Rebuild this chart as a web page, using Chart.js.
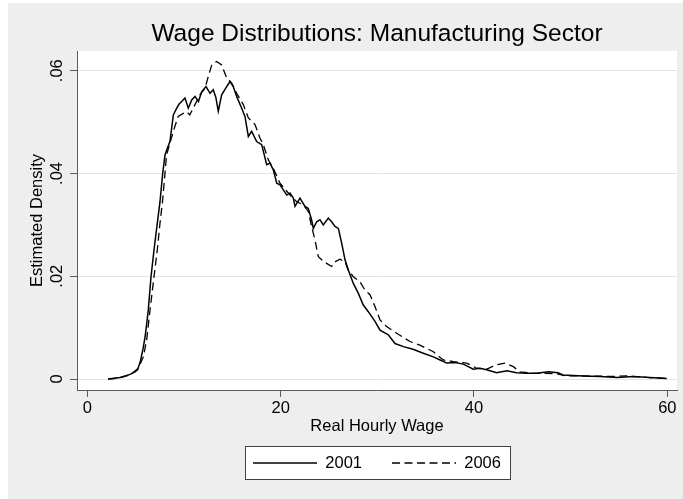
<!DOCTYPE html>
<html>
<head>
<meta charset="utf-8">
<title>Wage Distributions: Manufacturing Sector</title>
<script src="https://cdn.jsdelivr.net/npm/chart.js@4/dist/chart.umd.min.js"></script>
<style>
  html, body { margin: 0; padding: 0; background: #ffffff; }
  #wrap { position: absolute; left: 8px; top: 3px; width: 675px; height: 496px; }
</style>
</head>
<body>
<div id="wrap"><canvas id="c" width="675" height="496"></canvas></div>
<script>
// Kernel density estimates of real hourly wages, manufacturing sector
const wage2001 = [2.17, 3.38, 4.42, 4.93, 5.2, 5.5, 5.8, 6.0, 6.31, 6.59, 6.9, 7.24, 7.52, 7.8, 8.04, 8.3, 8.55, 8.9, 9.25, 9.5, 9.77, 10.1, 10.45, 10.8, 11.14, 11.5, 11.83, 12.28, 12.7, 13.03, 13.3, 13.55, 13.9, 14.42, 14.76, 15.1, 15.45, 15.97, 16.31, 16.66, 17.0, 17.52, 18.04, 18.56, 18.9, 19.24, 19.6, 19.93, 20.28, 20.63, 20.97, 21.31, 21.49, 22.0, 22.52, 22.86, 23.2, 23.38, 23.73, 24.07, 24.41, 24.93, 25.28, 25.62, 25.97, 26.32, 26.66, 27.0, 27.52, 28.03, 28.55, 29.07, 29.76, 30.28, 31.14, 31.83, 32.7, 33.7, 34.76, 35.8, 36.5, 37.18, 38.04, 38.9, 39.93, 40.62, 41.3, 42.35, 43.4, 44.4, 45.45, 46.5, 47.7, 48.7, 49.2, 51.3, 53.0, 54.8, 56.5, 58.2, 59.94];
const density2001 = [0, 0.0003, 0.0009, 0.0014, 0.0018, 0.0035, 0.0062, 0.0085, 0.0134, 0.0199, 0.0251, 0.0303, 0.0345, 0.0400, 0.0436, 0.0450, 0.0462, 0.0514, 0.0527, 0.0535, 0.0540, 0.0547, 0.0527, 0.0543, 0.0550, 0.0540, 0.0559, 0.0569, 0.0556, 0.0563, 0.0548, 0.0521, 0.0553, 0.0569, 0.0579, 0.0569, 0.0550, 0.0527, 0.0511, 0.0472, 0.0482, 0.0462, 0.0456, 0.0417, 0.0420, 0.0407, 0.0381, 0.0378, 0.0368, 0.0358, 0.0362, 0.0352, 0.0336, 0.0352, 0.0336, 0.0332, 0.0310, 0.0293, 0.0306, 0.0310, 0.0300, 0.0313, 0.0306, 0.0297, 0.0293, 0.0264, 0.0232, 0.0212, 0.0186, 0.0167, 0.0144, 0.0131, 0.0112, 0.0095, 0.0086, 0.0069, 0.0063, 0.0058, 0.0050, 0.0043, 0.0037, 0.0031, 0.0032, 0.0029, 0.0019, 0.0021, 0.0018, 0.0012, 0.0016, 0.0012, 0.0011, 0.0011, 0.0014, 0.0012, 0.0008, 0.0006, 0.0005, 0.0003, 0.0005, 0.0003, 0.0001];

const wage2006 = [2.17, 3.38, 4.42, 5.28, 5.8, 6.14, 6.49, 6.9, 7.24, 7.52, 7.8, 8.2, 8.9, 9.4, 9.93, 10.3, 10.6, 11.14, 11.66, 12.18, 12.52, 12.87, 13.38, 13.9, 14.42, 14.94, 15.45, 16.14, 16.66, 17.35, 17.86, 18.21, 18.73, 19.24, 19.93, 20.97, 21.66, 22.34, 22.86, 23.2, 23.55, 23.9, 24.25, 24.76, 25.28, 25.62, 26.14, 26.66, 27.0, 27.52, 28.21, 28.73, 29.24, 29.76, 30.28, 30.97, 32.0, 33.38, 34.4, 35.8, 36.83, 37.86, 39.24, 40.28, 41.3, 42.17, 43.2, 44.07, 44.76, 46.14, 47.52, 48.56, 49.6, 51.3, 54.4, 55.8, 57.9, 59.94];
const density2006 = [0, 0.0002, 0.0008, 0.0021, 0.0043, 0.0076, 0.0134, 0.0199, 0.0251, 0.0303, 0.0349, 0.0436, 0.0482, 0.0511, 0.0517, 0.0520, 0.0514, 0.0534, 0.0553, 0.0566, 0.0589, 0.0611, 0.0618, 0.0611, 0.0586, 0.0576, 0.0556, 0.0534, 0.0508, 0.0495, 0.0469, 0.0456, 0.0426, 0.0410, 0.0381, 0.0358, 0.0345, 0.0339, 0.0326, 0.0297, 0.0271, 0.0238, 0.0232, 0.0225, 0.0219, 0.0228, 0.0233, 0.0228, 0.0212, 0.0199, 0.0189, 0.0173, 0.0164, 0.0141, 0.0115, 0.0102, 0.0089, 0.0073, 0.0066, 0.0053, 0.0037, 0.0034, 0.0031, 0.0021, 0.0019, 0.0027, 0.0031, 0.0024, 0.0014, 0.0011, 0.0011, 0.0010, 0.0006, 0.0006, 0.0005, 0.0006, 0.0003, 0.0001];

const seriesNames = ['2001', '2006'];
const xTicks = [0, 20, 40, 60];
const yTicks = [0, 0.02, 0.04, 0.06];

const FONT = '"Liberation Sans", Arial, Helvetica, sans-serif';
const LABEL_SIZE = 16.5;
const LEGEND_GAP = 30;

const toPoints = (xs, ys) => xs.map((x, i) => ({ x, y: ys[i] }));
const stataNum = v => (v === 0 ? '0' : String(+v.toFixed(4)).replace(/^0\./, '.'));

// grey graph region, white plot region and the framed legend
const frame = {
  id: 'frame',
  beforeDraw(chart) {
    const { ctx, chartArea: a } = chart;
    ctx.save();
    ctx.fillStyle = '#eeeeee';
    ctx.fillRect(0, 0, chart.width, chart.height);
    ctx.fillStyle = '#ffffff';
    ctx.fillRect(a.left, a.top, a.right - a.left, a.bottom - a.top);
    const lg = chart.legend;
    if (lg && lg.lineWidths) {
      const total = lg.lineWidths[0] - LEGEND_GAP;
      const cx = (lg.left + lg.right) / 2;
      const cy = lg.top + LEGEND_GAP + LABEL_SIZE / 2;
      const x0 = Math.round(cx - total / 2 - 8) + 0.5;
      const x1 = Math.round(cx + total / 2 + 9) + 0.5;
      const y0 = Math.round(cy - 17) + 0.5;
      const y1 = Math.round(cy + 16) + 0.5;
      ctx.fillStyle = '#ffffff';
      ctx.fillRect(x0, y0, x1 - x0, y1 - y0);
      ctx.strokeStyle = '#404040';
      ctx.lineWidth = 1;
      ctx.strokeRect(x0, y0, x1 - x0, y1 - y0);
    }
    ctx.restore();
  }
};

Chart.defaults.font.family = FONT;
Chart.defaults.color = '#000000';

// legend samples take the line style of their series
const legendItems = chart =>
  Chart.defaults.plugins.legend.labels.generateLabels(chart).map(item => {
    const ds = chart.data.datasets[item.datasetIndex];
    return Object.assign({}, item, {
      lineDash: ds.borderDash || [],
      lineWidth: ds.borderWidth,
      strokeStyle: ds.borderColor,
      fillStyle: ds.borderColor
    });
  });

new Chart(document.getElementById('c'), {
  type: 'line',
  data: {
    datasets: [
      {
        label: seriesNames[0],
        data: toPoints(wage2001, density2001),
        borderColor: '#000000',
        borderWidth: 1.5,
        pointRadius: 0,
        tension: 0,
        fill: false
      },
      {
        label: seriesNames[1],
        data: toPoints(wage2006, density2006),
        borderColor: '#000000',
        borderWidth: 1.3,
        borderDash: [8, 4.5],
        pointRadius: 0,
        tension: 0,
        fill: false
      }
    ]
  },
  options: {
    responsive: false,
    animation: false,
    layout: { padding: { left: 0, right: 6, top: 0, bottom: 17.75 } },
    plugins: {
      title: {
        display: true,
        text: 'Wage Distributions: Manufacturing Sector',
        fullSize: false,
        color: '#000000',
        font: { family: FONT, size: 24.5, weight: 'normal' },
        padding: { top: 16.3, bottom: 2.3 }
      },
      legend: {
        display: true,
        position: 'bottom',
        fullSize: false,
        labels: {
          usePointStyle: true,
          pointStyle: 'line',
          pointStyleWidth: 64,
          boxWidth: 64,
          padding: LEGEND_GAP,
          color: '#000000',
          font: { family: FONT, size: LABEL_SIZE },
          generateLabels: legendItems
        }
      },
      tooltip: { enabled: false }
    },
    scales: {
      x: {
        type: 'linear',
        min: -1.065,
        max: 61.003,
        afterBuildTicks: s => { s.ticks = xTicks.map(v => ({ value: v })); },
        afterFit: s => { s.height = 34.75; },
        border: { display: true, color: '#5a5a5a', width: 1 },
        grid: { drawOnChartArea: false, drawTicks: true, tickLength: 7, tickColor: '#5a5a5a', tickWidth: 1 },
        ticks: { padding: 1.5, font: { family: FONT, size: LABEL_SIZE }, color: '#000000', maxRotation: 0 },
        title: {
          display: true,
          text: 'Real Hourly Wage',
          color: '#000000',
          font: { family: FONT, size: LABEL_SIZE },
          padding: { top: 0, bottom: -11.15 }
        }
      },
      y: {
        type: 'linear',
        min: -0.00214,
        max: 0.06383,
        afterBuildTicks: s => { s.ticks = yTicks.map(v => ({ value: v })); },
        afterFit: s => { s.width = 69; },
        border: { display: true, color: '#5a5a5a', width: 1 },
        grid: { drawOnChartArea: true, color: '#e4e4e4', lineWidth: 1, drawTicks: true, tickLength: 7, tickColor: '#5a5a5a', tickWidth: 1 },
        ticks: {
          minRotation: 90,
          maxRotation: 90,
          crossAlign: 'center',
          padding: 1.5,
          font: { family: FONT, size: LABEL_SIZE },
          color: '#000000',
          callback: v => stataNum(v)
        },
        title: {
          display: true,
          text: 'Estimated Density',
          color: '#000000',
          font: { family: FONT, size: LABEL_SIZE },
          padding: { top: 19.1, bottom: 0 }
        }
      }
    }
  },
  plugins: [frame]
});
</script>
</body>
</html>
